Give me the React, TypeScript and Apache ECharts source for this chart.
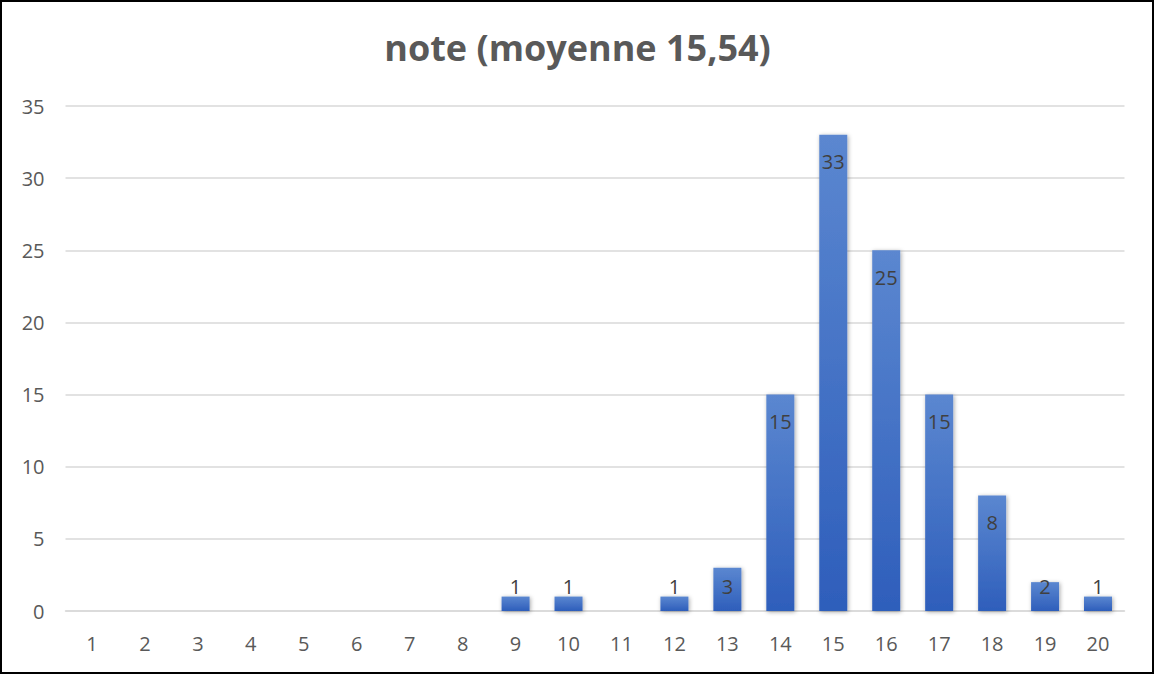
import React, { useEffect, useRef } from "react";
import * as echarts from "echarts";

const titleText = "note (moyenne 15,54)";
const categories = ["1","2","3","4","5","6","7","8","9","10","11","12","13","14","15","16","17","18","19","20"];
const counts = [0,0,0,0,0,0,0,0,1,1,0,1,3,15,33,25,15,8,2,1];
const yMin = 0;
const yMax = 35;
const yInterval = 5;

const FONT = "'Open Sans', 'Liberation Sans', sans-serif";

export default function App() {
  const ref = useRef<HTMLDivElement>(null);
  useEffect(() => {
    if (!ref.current) return;
    const chart = echarts.init(ref.current, null, { renderer: "svg" });
    const gridTop = 106;
    const gridBottom = 64;
    const plotH = 675 - gridTop - gridBottom;
    const data = counts.map((v) => {
      if (v === 0) return { value: v, label: { show: false } };
      const h = ((v - yMin) / (yMax - yMin)) * plotH;
      const small = h < 53;
      return {
        value: v,
        label: small
          ? { position: "insideBottom", distance: 15 }
          : { position: "insideTop", distance: 17 },
      };
    });
    chart.setOption({
      animation: false,
      backgroundColor: "#ffffff",
      title: {
        text: titleText,
        left: "center",
        top: 24,
        textStyle: { fontFamily: FONT, fontSize: 36, fontWeight: "bold", color: "#595959" },
      },
      graphic: [
        {
          type: "rect",
          silent: true,
          shape: { x: 1, y: 1, width: 1152, height: 672 },
          style: { fill: "none", stroke: "#000000", lineWidth: 2 },
        },
      ],
      grid: { left: 65.5, right: 30.5, top: gridTop, bottom: gridBottom },
      xAxis: {
        type: "category",
        data: categories,
        axisLine: { show: true, lineStyle: { color: "#d9d9d9", width: 1.5 } },
        axisTick: { show: false },
        axisLabel: { fontFamily: FONT, fontSize: 20, color: "#595959", margin: 22 },
      },
      yAxis: {
        type: "value",
        min: yMin,
        max: yMax,
        interval: yInterval,
        axisLine: { show: false },
        axisTick: { show: false },
        splitLine: { lineStyle: { color: "#d9d9d9", width: 1.5 } },
        axisLabel: { fontFamily: FONT, fontSize: 20, color: "#595959", margin: 21 },
      },
      series: [
        {
          type: "bar",
          data,
          barWidth: 28,
          itemStyle: {
            color: new echarts.graphic.LinearGradient(0, 0, 0, 1, [
              { offset: 0, color: "#5B87D0" },
              { offset: 1, color: "#2E5EBB" },
            ]),
            shadowColor: "rgba(0,0,0,0.35)",
            shadowBlur: 4,
            shadowOffsetX: 1,
            shadowOffsetY: 1,
          },
          label: {
            show: true,
            fontFamily: FONT,
            fontSize: 20,
            color: "#404040",
          },
        },
      ],
    });
    return () => chart.dispose();
  }, []);
  return (
    <div
      ref={ref}
      style={{ position: "fixed", left: 0, top: 0, width: 1155, height: 675 }}
    />
  );
}
